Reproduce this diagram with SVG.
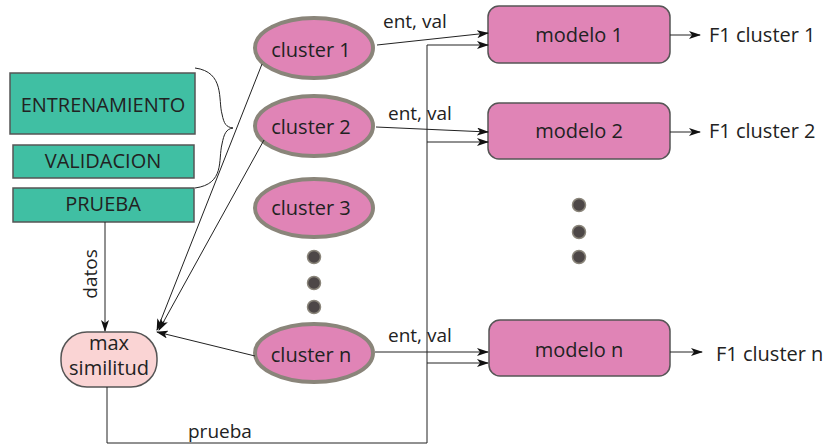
<svg xmlns="http://www.w3.org/2000/svg" width="825" height="447" viewBox="0 0 825 447">
<defs>
<marker id="ah" markerWidth="12" markerHeight="8" refX="11" refY="4" orient="auto" markerUnits="userSpaceOnUse">
<path d="M0,0 L12,4 L0,8 L3,4 z" fill="#111"/>
</marker>
<style>
text{font-family:"Open Sans","Noto Sans",sans-serif;fill:#222;font-size:20px}
.mid{text-anchor:middle}
.box{fill:#40bfa3;stroke:#555;stroke-width:1.5}
.cl{fill:#e084b6;stroke:#8a857a;stroke-width:4}
.mod{fill:#e084b6;stroke:#555;stroke-width:1.5}
.dot{fill:#4d4747;stroke:#8a857a;stroke-width:1.5}
.ln{fill:none;stroke:#222;stroke-width:1}
.lbl{font-size:19px}
</style>
</defs>
<g id="entrenamiento"><rect class="box" x="10" y="73" width="185" height="61"/><text class="mid" x="103" y="112">ENTRENAMIENTO</text></g>
<g id="validacion"><rect class="box" x="13" y="145" width="181" height="33"/><text class="mid" x="103" y="168">VALIDACION</text></g>
<g id="prueba"><rect class="box" x="13" y="188" width="181" height="34"/><text class="mid" x="103" y="211">PRUEBA</text></g>
<g id="brace"><path class="ln" stroke="#555" d="M195,68 C225,72 218,100 222,114 C224,124 226,127 233,128 C226,129 224,134 222,144 C218,160 225,184 195,188"/></g>
<g id="cluster1"><ellipse class="cl" cx="314" cy="48" rx="59" ry="30"/><text class="mid" x="311" y="57">cluster 1</text></g>
<g id="cluster2"><ellipse class="cl" cx="314" cy="126" rx="59" ry="30"/><text class="mid" x="311" y="134">cluster 2</text></g>
<g id="cluster3"><ellipse class="cl" cx="314" cy="208" rx="59" ry="29"/><text class="mid" x="311" y="215">cluster 3</text></g>
<g id="clustern"><ellipse class="cl" cx="314" cy="353" rx="59" ry="29"/><text class="mid" x="311" y="362">cluster n</text></g>
<g id="dots1"><circle class="dot" cx="314" cy="257" r="6.5"/><circle class="dot" cx="314" cy="283" r="6.5"/><circle class="dot" cx="314" cy="307" r="6.5"/></g>
<g id="dots2"><circle class="dot" cx="579" cy="205" r="6.5"/><circle class="dot" cx="579" cy="232" r="6.5"/><circle class="dot" cx="579" cy="257" r="6.5"/></g>
<g id="modelo1"><rect class="mod" x="488" y="6" width="182" height="57" rx="11"/><text class="mid" x="579" y="42">modelo 1</text></g>
<g id="modelo2"><rect class="mod" x="488" y="103" width="182" height="56" rx="11"/><text class="mid" x="579" y="138">modelo 2</text></g>
<g id="modelon"><rect class="mod" x="489" y="320" width="181" height="56" rx="11"/><text class="mid" x="579" y="357">modelo n</text></g>
<g id="maxsimilitud"><rect x="61" y="332" width="96" height="55" rx="26" fill="#fad4d4" stroke="#555" stroke-width="1.5"/><text class="mid" x="109" y="350">max</text><text class="mid" x="109" y="375">similitud</text></g>
<g id="f1"><text x="709" y="42">F1 cluster 1</text><text x="709" y="138">F1 cluster 2</text><text x="716" y="361">F1 cluster n</text></g>
<g id="connectors">
<path class="ln" d="M105,222 L105,331" marker-end="url(#ah)"/>
<path class="ln" d="M107,387 L107,443 L427,443 L427,45"/>
<path class="ln" d="M377,45 L488,33" marker-end="url(#ah)"/>
<path class="ln" d="M427,45 L488,45" marker-end="url(#ah)"/>
<path class="ln" d="M376,127 L488,132" marker-end="url(#ah)"/>
<path class="ln" d="M427,142 L488,142" marker-end="url(#ah)"/>
<path class="ln" d="M375,352 L488,352" marker-end="url(#ah)"/>
<path class="ln" d="M427,363 L488,363" marker-end="url(#ah)"/>
<path class="ln" d="M262,64 L157,330" marker-end="url(#ah)"/>
<path class="ln" d="M264,140 L159,330" marker-end="url(#ah)"/>
<path class="ln" d="M255,356 L157,332" marker-end="url(#ah)"/>
<path class="ln" d="M670,35 L700,35" marker-end="url(#ah)"/>
<path class="ln" d="M670,132 L700,132" marker-end="url(#ah)"/>
<path class="ln" d="M670,352 L702,352" marker-end="url(#ah)"/>
<text class="lbl" x="383" y="28">ent, val</text>
<text class="lbl" x="388" y="120">ent, val</text>
<text class="lbl" x="388" y="342">ent, val</text>
<text class="lbl mid" transform="translate(97,274) rotate(-90)">datos</text>
<text class="lbl" x="188" y="438">prueba</text>
</g>
</svg>
